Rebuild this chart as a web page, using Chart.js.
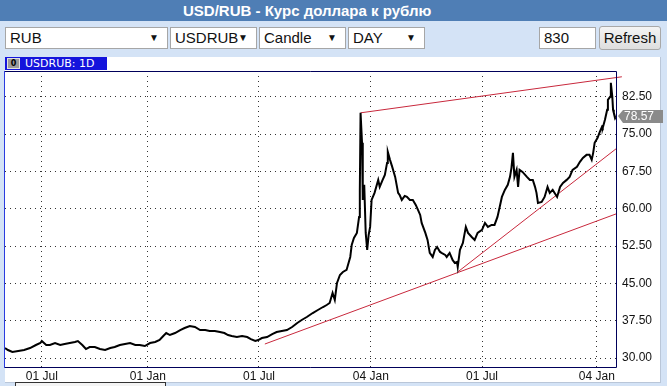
<!DOCTYPE html>
<html>
<head>
<meta charset="utf-8">
<title>USD/RUB</title>
<script src="https://cdn.jsdelivr.net/npm/chart.js@4.4.1/dist/chart.umd.min.js"></script>
<style>
  html, body { margin: 0; padding: 0; }
  body { width: 667px; height: 386px; overflow: hidden; position: relative; background: #d4e3f6;
         font-family: "Liberation Sans", Arial, sans-serif; }
  #title { position: absolute; left: 0; top: 0; width: 667px; height: 21px; background: #4f7eb5; }
  #title span { position: absolute; left: 183px; top: 2px; color: #fff; font-weight: bold; font-size: 15px;
                font-family: "Liberation Sans Narrow", "Liberation Sans", sans-serif; }
  .box { position: absolute; top: 27px; height: 20px; background: #fff; border: 1px solid #a6a6a6;
         font-size: 15px; line-height: 20px; padding-left: 4px; color: #111;
         font-family: "Liberation Sans Narrow", "Liberation Sans", sans-serif; }
  .box .arr { position: absolute; right: 8px; top: 0; font-size: 10px; }
  #refresh { position: absolute; left: 599px; top: 26px; width: 60px; height: 22px; border: 1px solid #a8a8a8;
             border-radius: 3px; background: linear-gradient(#f4f4f4, #dedede); font-size: 15px; line-height: 22px;
             text-align: center; color: #111; font-family: "Liberation Sans Narrow", "Liberation Sans", sans-serif; }
  #panel { position: absolute; left: 5px; top: 57px; width: 655px; height: 325px; background: #fff;
           border-right: 1px solid #b9c6d8; border-bottom: 1px solid #b9c6d8; }
  #chartWrap { position: absolute; left: 0; top: 57px; width: 667px; height: 325px; }
  #tab { position: absolute; left: 5px; top: 57px; width: 102px; height: 13px; background: #1414dc; color: #fff;
         font-family: "DejaVu Sans", sans-serif; font-size: 11px; line-height: 13px; }
  #tab .ico { position: absolute; left: 2px; top: 1px; width: 11px; height: 9px; background: #9a9a9a;
              border: 1px solid #e0e0e0; color: #000; font-size: 8px; line-height: 9px; text-align: center; font-weight: bold; }
  #tab .txt { position: absolute; left: 20px; top: 0; }
  #scroll { position: absolute; left: 15px; top: 382px; width: 149px; height: 8px; border: 1px solid #333; background: #f4f4f4; }
</style>
</head>
<body>
<div id="title"><span>USD/RUB - Курс доллара к рублю</span></div>
<div class="box" style="left:5px;width:157px;">RUB<span class="arr">▼</span></div>
<div class="box" style="left:170px;width:81px;">USDRUB<span class="arr">▼</span></div>
<div class="box" style="left:259px;width:81px;">Candle<span class="arr">▼</span></div>
<div class="box" style="left:348px;width:71px;">DAY<span class="arr">▼</span></div>
<div class="box" style="left:539px;width:51px;">830</div>
<div id="refresh">Refresh</div>
<div id="panel"></div>
<div id="chartWrap"><canvas id="usdRubChart"></canvas></div>
<div id="tab"><div class="ico">0</div><div class="txt">USDRUB: 1D</div></div>
<div id="scroll"></div>

<script>
// bar number (daily bars, 0..830) and closing price
const barIndex = [
  0, 4, 10, 18, 26, 34, 42, 48, 50, 56,
  61, 68, 75, 81, 88, 95, 99, 105, 110, 115,
  122, 129, 136, 143, 149, 156, 163, 170, 177, 183,
  190, 197, 204, 210, 215, 219, 224, 231, 238, 244,
  251, 258, 265, 272, 278, 285, 292, 298, 303, 308,
  315, 322, 329, 334, 340, 344, 349, 356, 363, 369,
  376, 383, 390, 397, 403, 410, 414, 418, 425, 432,
  437, 441, 445, 448, 451, 455, 459, 464, 469, 471,
  474, 478, 481, 482, 483, 485, 486, 488, 490, 492,
  494, 496, 498, 502, 507, 509, 513, 516, 519, 520,
  523, 526, 530, 534, 536, 539, 543, 546, 550, 554,
  558, 561, 564, 566, 571, 574, 577, 581, 584, 587,
  591, 593, 598, 600, 604, 608, 611, 614, 615, 618,
  622, 626, 629, 634, 638, 642, 648, 652, 656, 661,
  665, 669, 672, 675, 679, 683, 686, 688, 690, 692,
  695, 697, 699, 703, 709, 713, 717, 720, 722, 724,
  729, 733, 737, 740, 744, 750, 754, 758, 763, 767,
  771, 777, 781, 785, 790, 794, 797, 799, 801, 805,
  808, 811, 812, 815, 818, 819, 822, 823, 825, 826,
  827, 829, 830
];

const closePrice = [
  32.01, 31.61, 31.21, 31.41, 31.61, 32.01, 32.62, 33.02, 33.42, 32.62,
  32.62, 33.02, 32.62, 32.82, 33.02, 33.22, 33.42, 32.62, 31.81, 32.21,
  32.21, 31.81, 31.61, 32.01, 32.21, 32.62, 32.82, 33.02, 32.62, 32.62,
  32.41, 33.02, 33.22, 33.62, 34.43, 35.03, 34.63, 35.03, 35.63, 36.04,
  36.44, 36.24, 35.63, 35.63, 35.43, 35.43, 35.23, 35.03, 34.63, 34.43,
  34.23, 34.43, 34.23, 33.82, 33.42, 33.62, 34.02, 34.23, 34.83, 35.23,
  35.43, 35.63, 36.24, 37.04, 37.65, 38.25, 38.65, 39.05, 39.66, 40.26,
  40.66, 41.07, 43.08, 41.67, 45.09, 46.70, 47.30, 47.71, 50.32, 52.74,
  54.14, 55.15, 58.37, 63.80, 79.29, 73.26, 61.79, 64.81, 55.15, 51.73,
  54.75, 56.36, 61.79, 63.20, 65.81, 64.41, 65.81, 66.82, 69.23, 71.45,
  69.84, 68.43, 66.42, 63.20, 62.80, 61.79, 62.59, 62.39, 61.79, 61.79,
  60.78, 59.78, 58.77, 57.16, 55.15, 53.74, 51.13, 50.32, 51.73, 52.33,
  51.33, 51.13, 50.72, 50.32, 51.13, 49.72, 49.11, 49.32, 48.31, 51.73,
  53.14, 56.36, 55.15, 54.34, 53.74, 55.15, 55.75, 57.16, 56.36, 56.76,
  56.76, 58.37, 60.38, 62.39, 63.80, 64.81, 66.42, 68.23, 71.25, 66.42,
  67.82, 64.41, 67.82, 67.42, 66.42, 65.81, 65.81, 64.41, 63.20, 61.19,
  61.39, 62.39, 64.41, 63.20, 63.80, 62.39, 64.41, 65.21, 65.81, 66.42,
  67.82, 68.43, 69.44, 70.24, 70.84, 70.84, 69.84, 71.25, 73.26, 74.26,
  75.47, 76.48, 76.28, 77.89, 79.90, 81.91, 82.51, 85.33, 82.51, 79.90,
  79.29, 78.29, 78.57
];

// trend lines drawn on the chart: [start bar, end bar] and [start price, end price]
const upperTrendBars = [483, 838];
const upperTrendPrices = [79.29, 86.54];
const longTrendBars = [353, 830];
const longTrendPrices = [32.82, 58.97];
const steepTrendBars = [615, 830];
const steepTrendPrices = [47.30, 72.05];

const lastPrice = 78.57;

const xTickBars = [50, 194, 345, 497, 648, 804];
const xTickLabels = ["01 Jul", "01 Jan", "01 Jul", "04 Jan", "01 Jul", "04 Jan"];
const yTickValues = [30, 37.5, 45, 52.5, 60, 67.5, 75, 82.5];

const tickFont = { family: "'Liberation Sans Narrow', 'Liberation Sans', sans-serif", size: 12 };

function toPoints(xs, ys) {
  return xs.map((x, i) => ({ x: x, y: ys[i] }));
}

const frameAndTag = {
  id: "frameAndTag",
  afterDraw(chart) {
    const ctx = chart.ctx;
    const area = chart.chartArea;
    ctx.save();
    ctx.lineWidth = 1;
    ctx.strokeStyle = "#00005a";
    ctx.beginPath();
    ctx.moveTo(area.left, area.top + 0.5);
    ctx.lineTo(area.right + 0.5, area.top + 0.5);
    ctx.lineTo(area.right + 0.5, area.bottom + 0.5);
    ctx.lineTo(area.left, area.bottom + 0.5);
    ctx.stroke();
    ctx.strokeStyle = "#2a3ce0";
    ctx.beginPath();
    ctx.moveTo(area.left - 0.5, area.top);
    ctx.lineTo(area.left - 0.5, area.bottom + 1);
    ctx.stroke();

    // last price tag
    const y = Math.round(chart.scales.y.getPixelForValue(lastPrice));
    const x0 = area.right + 2;
    ctx.fillStyle = "#8a8a8a";
    ctx.beginPath();
    ctx.moveTo(x0, y);
    ctx.lineTo(x0 + 5, y - 6);
    ctx.lineTo(x0 + 45, y - 6);
    ctx.lineTo(x0 + 45, y + 7);
    ctx.lineTo(x0 + 5, y + 7);
    ctx.closePath();
    ctx.fill();
    ctx.fillStyle = "#ffffff";
    ctx.font = "12px " + tickFont.family;
    ctx.textBaseline = "middle";
    ctx.fillText(lastPrice.toFixed(2), x0 + 6, y + 1);
    ctx.restore();
  }
};

new Chart(document.getElementById("usdRubChart"), {
  type: "line",
  data: {
    datasets: [
      {
        label: "USDRUB",
        data: toPoints(barIndex, closePrice),
        borderColor: "#000000",
        borderWidth: 2,
        pointRadius: 0,
        tension: 0,
      },
      {
        label: "trend 1",
        data: toPoints(upperTrendBars, upperTrendPrices),
        borderColor: "#c8283c",
        borderWidth: 1,
        pointRadius: 0,
        clip: { left: 0, top: 0, right: 8, bottom: 0 },
      },
      {
        label: "trend 2",
        data: toPoints(longTrendBars, longTrendPrices),
        borderColor: "#c8283c",
        borderWidth: 1,
        pointRadius: 0,
      },
      {
        label: "trend 3",
        data: toPoints(steepTrendBars, steepTrendPrices),
        borderColor: "#c8283c",
        borderWidth: 1,
        pointRadius: 0,
      },
    ],
  },
  options: {
    responsive: true,
    maintainAspectRatio: false,
    animation: false,
    layout: { padding: { left: 5, top: 14, right: 0, bottom: 0 } },
    plugins: {
      legend: { display: false },
      tooltip: { enabled: false },
    },
    scales: {
      x: {
        type: "linear",
        min: 0,
        max: 830,
        afterBuildTicks: (axis) => { axis.ticks = xTickBars.map((v) => ({ value: v })); },
        afterFit: (axis) => { axis.height = 15; },
        ticks: {
          autoSkip: false,
          maxRotation: 0,
          padding: 2,
          color: "#111",
          font: tickFont,
          callback: (value, index) => xTickLabels[index],
        },
        grid: { color: "#333", drawTicks: false, lineWidth: 1 },
        border: { display: false, dash: [1, 4] },
      },
      y: {
        position: "right",
        min: 28.2,
        max: 87.7,
        afterBuildTicks: (axis) => { axis.ticks = yTickValues.map((v) => ({ value: v })); },
        afterFit: (axis) => { axis.width = 51; },
        ticks: {
          padding: 6,
          color: "#111",
          font: tickFont,
          callback: (value) => Number(value).toFixed(2),
        },
        grid: { color: "#333", drawTicks: false, lineWidth: 1 },
        border: { display: false, dash: [1, 4] },
      },
    },
  },
  plugins: [frameAndTag],
});
</script>
</body>
</html>
